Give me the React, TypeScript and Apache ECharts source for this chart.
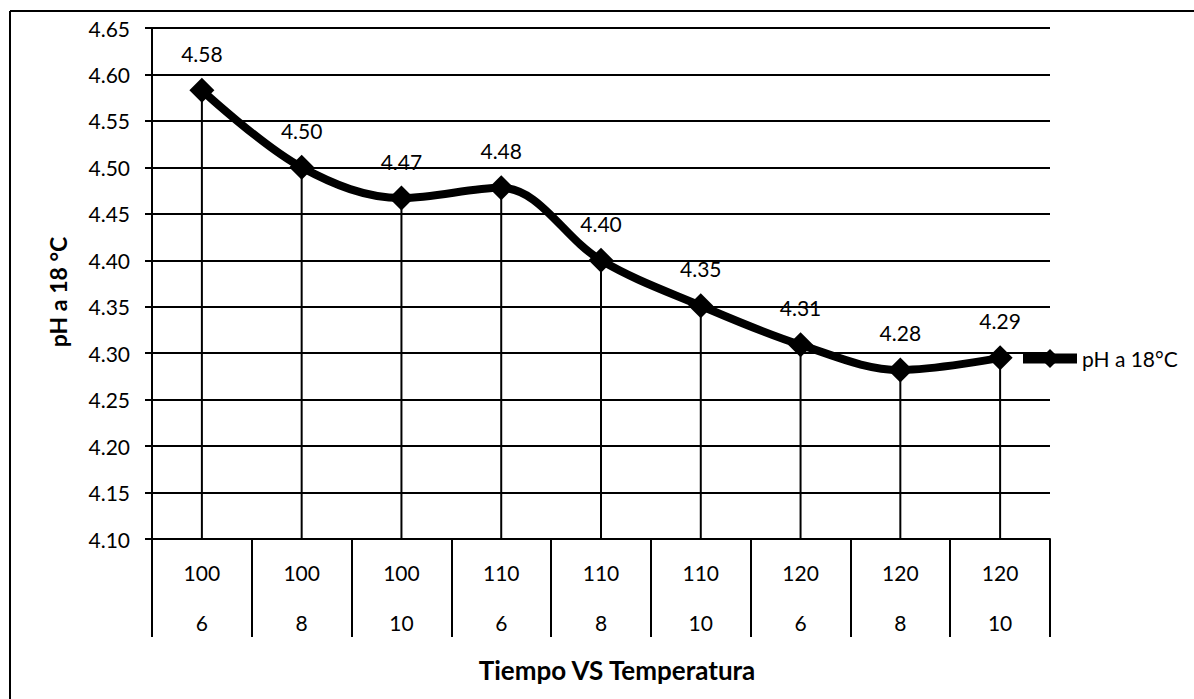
import React, { useEffect, useRef } from "react";
import * as echarts from "echarts";

const categories = ["100\n6", "100\n8", "100\n10", "110\n6", "110\n8", "110\n10", "120\n6", "120\n8", "120\n10"];
const phValues = [4.583, 4.5, 4.467, 4.478, 4.4, 4.351, 4.309, 4.282, 4.295];
const seriesName = "pH a 18°C";
const yAxisTitle = "pH a 18 °C";
const xAxisTitle = "Tiempo VS Temperatura";
const yMin = 4.1;
const yMax = 4.65;
const yInterval = 0.05;

const FONT = "Lato, 'Open Sans', sans-serif";

export default function App() {
  const ref = useRef<HTMLDivElement>(null);
  useEffect(() => {
    if (!ref.current) return;
    const chart = echarts.init(ref.current, null, { renderer: "svg" });
    chart.setOption({
      animation: false,
      backgroundColor: "#fff",
      textStyle: { fontFamily: FONT },
      grid: { left: 152, right: 144, top: 28, bottom: 160, containLabel: false },
      legend: {
        data: [{ name: seriesName }],
        left: 1013,
        top: 343,
        itemWidth: 54,
        itemHeight: 24,
        itemGap: 4,
        lineStyle: { width: 10, color: "#000" },
        textStyle: { fontFamily: FONT, fontSize: 21, color: "#000" },
      },
      xAxis: {
        type: "category",
        data: categories,
        boundaryGap: true,
        axisLine: { lineStyle: { color: "#000", width: 2 } },
        axisTick: { show: true, length: 98, lineStyle: { color: "#000", width: 2 } },
        axisLabel: { color: "#000", fontSize: 21, lineHeight: 50, margin: 8, fontFamily: FONT },
        splitLine: { show: false },
      },
      yAxis: {
        type: "value",
        min: yMin,
        max: yMax,
        interval: yInterval,
        axisLine: { show: true, lineStyle: { color: "#000", width: 2 } },
        axisTick: { show: true, length: 7, lineStyle: { color: "#000", width: 2 } },
        axisLabel: {
          color: "#000",
          fontSize: 21,
          margin: 22,
          fontFamily: FONT,
          formatter: (v: number) => v.toFixed(2),
        },
        splitLine: { show: true, lineStyle: { color: "#000", width: 2 } },
      },
      series: [
        {
          name: "drop",
          type: "bar",
          data: phValues,
          barWidth: 2,
          clip: true,
          itemStyle: { color: "#000" },
          silent: true,
          z: 1,
        },
        {
          name: seriesName,
          type: "line",
          data: phValues,
          smooth: 0.35,
          symbol: "diamond",
          symbolSize: 25,
          lineStyle: { color: "#000", width: 8 },
          itemStyle: { color: "#000" },
          z: 3,
          label: {
            show: true,
            position: "top",
            distance: 14,
            color: "#000",
            fontSize: 21,
            fontFamily: FONT,
            formatter: (p: any) => Number(p.value).toFixed(2),
          },
        },
      ],
      graphic: [
        { type: "line", shape: { x1: 10, y1: 11, x2: 1194, y2: 11 }, style: { stroke: "#000", lineWidth: 2 } },
        { type: "line", shape: { x1: 10, y1: 11, x2: 10, y2: 699 }, style: { stroke: "#000", lineWidth: 2 } },
        {
          type: "text",
          x: 58,
          y: 292,
          rotation: Math.PI / 2,
          style: {
            text: yAxisTitle,
            fontFamily: FONT,
            fontSize: 23,
            fontWeight: "bold",
            fill: "#000",
            align: "center",
            verticalAlign: "middle",
          },
        },
        {
          type: "text",
          x: 617,
          y: 670,
          style: {
            text: xAxisTitle,
            fontFamily: FONT,
            fontSize: 26,
            fontWeight: "bold",
            fill: "#000",
            align: "center",
            verticalAlign: "middle",
          },
        },
      ],
    });
    return () => chart.dispose();
  }, []);
  return <div ref={ref} style={{ width: 1194, height: 699, position: "absolute", left: 0, top: 0 }} />;
}
